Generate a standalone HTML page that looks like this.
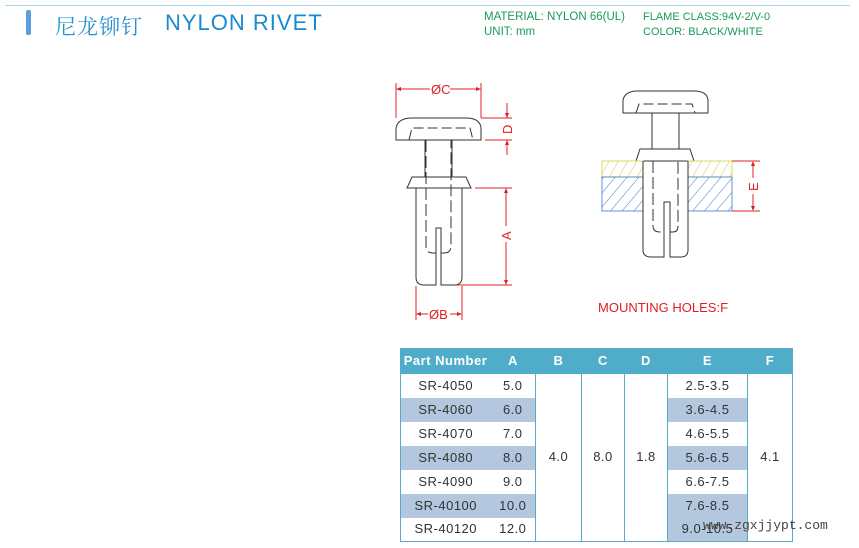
<!DOCTYPE html>
<html><head><meta charset="utf-8"><style>
body{margin:0;width:859px;height:548px;background:#fff;position:relative;overflow:hidden;font-family:"Liberation Sans",sans-serif}
.t{position:absolute;white-space:nowrap}
table{position:absolute;left:400px;top:348px;border-collapse:collapse;font-size:13px;color:#333;letter-spacing:0.5px;border:1px solid #5aaac8}
td{height:24px;box-sizing:border-box;padding:0;text-align:center;border-left:1px solid #5aaac8;border-right:1px solid #5aaac8;line-height:22px}
td.n{border-right:none}td.a{border-left:none}
tr.h td{background:#4fadc9;color:#fff;font-weight:bold;height:25px;border-color:#4fadc9}
.g{background:#b3c8de}
</style></head><body>
<div style="position:absolute;left:5px;top:5px;width:845px;height:1px;background:#a8d4ee"></div>
<div style="position:absolute;left:26px;top:10px;width:5px;height:25px;background:#5aa0dc;border-radius:2px"></div>
<div class="t" style="left:55px;top:11px;font-size:21px;color:#2a8fd0;font-family:'Noto Serif CJK SC',serif;letter-spacing:1px">尼龙铆钉</div>
<div class="t" style="left:165px;top:10px;font-size:22px;color:#1a8ad0;letter-spacing:1px">NYLON RIVET</div>
<div class="t" style="left:484px;top:10px;font-size:11.5px;color:#1a9a5a;line-height:15px">MATERIAL: NYLON 66(UL)<br>UNIT: mm</div>
<div class="t" style="left:643px;top:10px;font-size:11px;color:#1a9a5a;line-height:15px">FLAME CLASS:94V-2/V-0<br>COLOR: BLACK/WHITE</div>
<svg style="position:absolute;left:0;top:0" width="859" height="340">
<defs>
<pattern id="hy" width="8" height="8" patternUnits="userSpaceOnUse" patternTransform="rotate(30)"><line x1="0" y1="0" x2="0" y2="8" stroke="#c8c850" stroke-width="1"/></pattern>
<pattern id="hb" width="9" height="9" patternUnits="userSpaceOnUse" patternTransform="rotate(40)"><line x1="0" y1="0" x2="0" y2="9" stroke="#3a7ad0" stroke-width="1"/></pattern>
</defs>
<g fill="none" stroke="#333" stroke-width="1">
<path d="M396,140 L396,128 Q398,118 412,118 L466,118 Q480,118 481,128 L481,140 Z" fill="#fff"/>
<path d="M409,140 L412,128 L470,128 L473,140" stroke-dasharray="10,4"/>
<line x1="425" y1="140" x2="425" y2="177"/><line x1="452" y1="140" x2="452" y2="177"/>
<path d="M412,177 L466,177 L471,188 L407,188 Z"/>
<path d="M416,188 L416,277 Q416,285 424,285 L436,285 L436,228 L441,228 L441,285 L454,285 Q462,285 462,277 L462,188"/>
<path d="M426,140 L426,246 Q426,253 433,253 L436,253 M441,253 L444,253 Q451,253 451,246 L451,140" stroke-dasharray="12,4"/>
<path d="M623,113 L623,100 Q625,91 638,91 L694,91 Q707,91 708,100 L708,113 Z" fill="#fff"/>
<path d="M636,113 L639,104 L692,104 L695,113" stroke-dasharray="10,4"/>
<line x1="652" y1="113" x2="652" y2="149"/><line x1="679" y1="113" x2="679" y2="149"/>
<path d="M640,149 L690,149 L694,161 L636,161 Z"/>
</g>
<rect x="602" y="161" width="41" height="16" fill="url(#hy)" stroke="#d8d860"/>
<rect x="688" y="161" width="44" height="16" fill="url(#hy)" stroke="#d8d860"/>
<rect x="602" y="177" width="41" height="34" fill="url(#hb)" stroke="#3a7ad0" stroke-width="0.8"/>
<rect x="688" y="177" width="44" height="34" fill="url(#hb)" stroke="#3a7ad0" stroke-width="0.8"/>
<g fill="none" stroke="#333" stroke-width="1">
<path d="M643,161 L643,250 Q643,257 651,257 L664,257 L664,202 L670,202 L670,257 L681,257 Q688,257 688,250 L688,161"/>
<path d="M653,161 L653,226 Q653,232 660,232 L664,232 M670,232 L673,232 Q678,232 678,226 L678,161" stroke-dasharray="12,4"/>
</g>
<g stroke="#e02020" stroke-width="1" fill="none">
<line x1="396" y1="83" x2="396" y2="118"/><line x1="481" y1="83" x2="481" y2="118"/>
<line x1="398" y1="89" x2="430" y2="89"/><line x1="450" y1="89" x2="479" y2="89"/>
<line x1="481" y1="118" x2="512" y2="118"/><line x1="485" y1="140" x2="512" y2="140"/>
<line x1="507" y1="103" x2="507" y2="118"/><line x1="507" y1="140" x2="507" y2="155"/>
<line x1="475" y1="188" x2="512" y2="188"/><line x1="455" y1="285" x2="512" y2="285"/>
<line x1="506" y1="190" x2="506" y2="226"/><line x1="506" y1="242" x2="506" y2="283"/>
<line x1="416" y1="286" x2="416" y2="320"/><line x1="462" y1="286" x2="462" y2="320"/>
<line x1="418" y1="314" x2="428" y2="314"/><line x1="450" y1="314" x2="460" y2="314"/>
<line x1="732" y1="161" x2="760" y2="161"/><line x1="732" y1="211" x2="760" y2="211"/>
<line x1="753" y1="163" x2="753" y2="178"/><line x1="753" y1="194" x2="753" y2="209"/>
</g>
<g fill="#e02020">
<path d="M396,89 l5,-2 v4z"/><path d="M481,89 l-5,-2 v4z"/>
<path d="M507,118 l-2,-5 h4z"/><path d="M507,140 l-2,5 h4z"/>
<path d="M506,188 l-2,5 h4z"/><path d="M506,285 l-2,-5 h4z"/>
<path d="M416,314 l5,-2 v4z"/><path d="M462,314 l-5,-2 v4z"/>
<path d="M753,161 l-2,5 h4z"/><path d="M753,211 l-2,-5 h4z"/>
</g>
<g fill="#e02020" font-family="Liberation Sans" font-size="13">
<text x="431" y="94">ØC</text>
<text x="429" y="319">ØB</text>
<text transform="translate(512,134) rotate(-90)">D</text>
<text transform="translate(511,240) rotate(-90)">A</text>
<text transform="translate(758,191) rotate(-90)">E</text>
<text x="598" y="312" font-size="13">MOUNTING HOLES:F</text>
</g>
</svg>
<table>
<colgroup><col style="width:90px"><col style="width:45px"><col style="width:46px"><col style="width:43px"><col style="width:43px"><col style="width:80px"><col style="width:45px"></colgroup>
<tr class="h"><td>Part Number</td><td>A</td><td>B</td><td>C</td><td>D</td><td>E</td><td>F</td></tr>
<tr><td class="n">SR-4050</td><td class="a">5.0</td><td rowspan="7">4.0</td><td rowspan="7">8.0</td><td rowspan="7">1.8</td><td>2.5-3.5</td><td rowspan="7">4.1</td></tr>
<tr><td class="g n">SR-4060</td><td class="g a">6.0</td><td class="g">3.6-4.5</td></tr>
<tr><td class="n">SR-4070</td><td class="a">7.0</td><td>4.6-5.5</td></tr>
<tr><td class="g n">SR-4080</td><td class="g a">8.0</td><td class="g">5.6-6.5</td></tr>
<tr><td class="n">SR-4090</td><td class="a">9.0</td><td>6.6-7.5</td></tr>
<tr><td class="g n">SR-40100</td><td class="g a">10.0</td><td class="g">7.6-8.5</td></tr>
<tr><td class="n">SR-40120</td><td class="a">12.0</td><td class="g">9.0-10.5</td></tr>
</table>
<div class="t" style="left:703px;top:518px;font-size:13px;color:#444;font-family:'Liberation Mono',monospace">www.zgxjjypt.com</div>
</body></html>
